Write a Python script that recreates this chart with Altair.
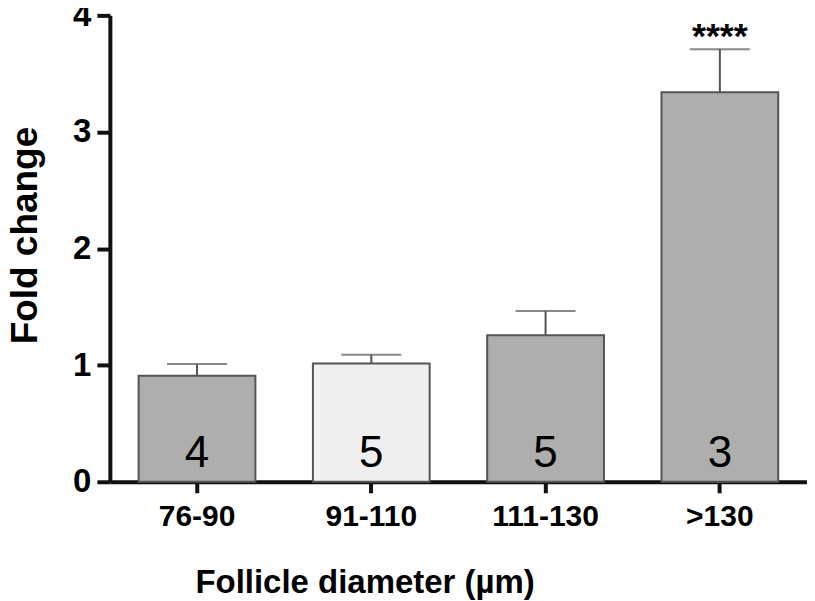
import altair as alt
import pandas as pd

categories = ["76-90", "91-110", "111-130", ">130"]
means = [0.91, 1.015, 1.257, 3.34]
err_top = [1.01, 1.09, 1.465, 3.71]
n_labels = ["4", "5", "5", "3"]
fills = ["#aeaeae", "#efefef", "#aeaeae", "#aeaeae"]
stars = ["", "", "", "****"]

df = pd.DataFrame({
    "cat": categories,
    "mean": means,
    "top": err_top,
    "n": n_labels,
    "fill": fills,
    "stars": stars,
})

FONT = "Liberation Sans, Arial, sans-serif"

x_scale = alt.Scale(domain=categories, paddingInner=0.33, paddingOuter=0.165)
y_scale = alt.Scale(domain=[0, 4], nice=False)

x_axis = alt.Axis(
    title="Follicle diameter (µm)",
    labelAngle=0,
    labelPadding=9,
    labelFontSize=30,
    tickSize=11,
    titleFontSize=33,
    titleX=255,
    titleY=111,
    titleBaseline="alphabetic",
    titleAlign="center",
)
y_axis = alt.Axis(
    title="Fold change",
    values=[0, 1, 2, 3, 4],
    format="d",
    labelPadding=6,
    labelFontSize=33,
    tickSize=13,
    titleFontSize=37,
    titleX=-84,
    titleY=220,
    titleAngle=-90,
    titleBaseline="middle",
    titleAlign="center",
)


def X():
    return alt.X("cat:N", sort=categories, scale=x_scale, axis=x_axis, title="Follicle diameter (µm)")


bars = alt.Chart(df).mark_bar(stroke="#555555", strokeWidth=2).encode(
    x=X(),
    y=alt.Y("mean:Q", scale=y_scale, axis=y_axis, title="Fold change"),
    fill=alt.Fill("fill:N", scale=None),
)

err_line = alt.Chart(df).mark_rule(color="#555555", strokeWidth=2).encode(
    x=X(),
    y=alt.Y("mean:Q", scale=y_scale, axis=y_axis, title="Fold change"),
    y2="top:Q",
)

err_cap = alt.Chart(df).mark_tick(color="#555555", thickness=2, size=60).encode(
    x=X(),
    y=alt.Y("top:Q", scale=y_scale, axis=y_axis, title="Fold change"),
)

n_text = alt.Chart(df).mark_text(
    font=FONT,
    fontSize=44,
    baseline="alphabetic",
    dy=-15,
    color="black",
).encode(
    x=X(),
    y=alt.Y("zero:Q", scale=y_scale, axis=y_axis, title="Fold change"),
    text="n:N",
).transform_calculate(zero="0")

star_text = alt.Chart(df).mark_text(
    font=FONT,
    fontSize=36,
    fontWeight="bold",
    baseline="alphabetic",
    dy=-1,
    color="black",
).encode(
    x=X(),
    y=alt.Y("top:Q", scale=y_scale, axis=y_axis, title="Fold change"),
    text="stars:N",
)

chart = (
    alt.layer(bars, err_line, err_cap, n_text, star_text)
    .properties(
        width=698,
        height=467,
        autosize=alt.AutoSizeParams(type="none"),
        padding={"left": 102, "top": 7, "right": 0, "bottom": 120},
        background="white",
    )
    .configure_view(stroke=None)
    .configure_axis(
        grid=False,
        labelFont=FONT,
        labelFontWeight="bold",
        labelColor="black",
        tickWidth=4,
        tickColor="#111111",
        domainColor="#111111",
        domainWidth=4,
        titleFont=FONT,
        titleFontWeight="bold",
        titleColor="black",
    )
)

chart.save("out.html", embed_options={"renderer": "svg", "actions": False})
